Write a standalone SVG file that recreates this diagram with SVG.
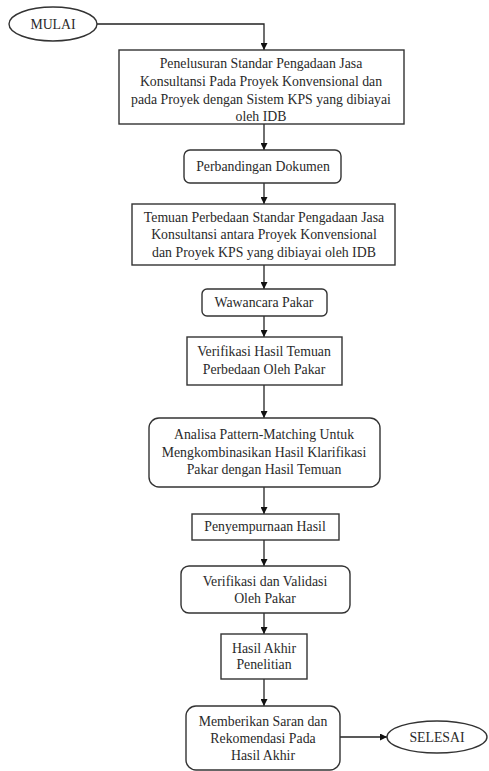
<svg xmlns="http://www.w3.org/2000/svg" width="489" height="771" viewBox="0 0 489 771">
<defs>
<marker id="ah" viewBox="0 0 10 10" refX="10" refY="5" markerWidth="7" markerHeight="7" markerUnits="userSpaceOnUse" orient="auto">
<path d="M0,0 L10,5 L0,10 z" fill="#111"/>
</marker>
<style>
.b{fill:#fff;stroke:#333;stroke-width:1.4}
.t{font-family:'Liberation Serif','DejaVu Serif',serif;font-size:13.8px;fill:#2a2a2a;text-anchor:middle}
.c{fill:none;stroke:#222;stroke-width:1.3;marker-end:url(#ah)}
</style>
</defs>
<rect width="489" height="771" fill="#fff"/>
<g id="connectors">
<path class="c" d="M97,24 H264 V50"/>
<path class="c" d="M264,124 V150"/>
<path class="c" d="M264,183 V204"/>
<path class="c" d="M264,265 V289"/>
<path class="c" d="M264,316 V337"/>
<path class="c" d="M264,385 V418"/>
<path class="c" d="M264,487 V514"/>
<path class="c" d="M264,540 V566"/>
<path class="c" d="M264,613 V634"/>
<path class="c" d="M264,679 V706"/>
<path class="c" d="M340,737 H387"/>
</g>
<g id="mulai">
<ellipse class="b" cx="53" cy="24" rx="44" ry="17"/>
<text class="t" x="53" y="29">MULAI</text>
</g>
<g id="n1">
<rect class="b" x="119" y="50" width="285" height="74"/>
<text class="t" x="261" y="68">Penelusuran Standar Pengadaan Jasa</text>
<text class="t" x="261" y="86">Konsultansi Pada Proyek Konvensional dan</text>
<text class="t" x="261" y="104">pada Proyek dengan Sistem KPS yang dibiayai</text>
<text class="t" x="261" y="121">oleh IDB</text>
</g>
<g id="n2">
<rect class="b" x="184" y="150" width="157" height="33" rx="6"/>
<text class="t" x="263" y="171">Perbandingan Dokumen</text>
</g>
<g id="n3">
<rect class="b" x="132" y="204" width="263" height="61"/>
<text class="t" x="264" y="222">Temuan Perbedaan Standar Pengadaan Jasa</text>
<text class="t" x="264" y="239">Konsultansi antara Proyek Konvensional</text>
<text class="t" x="264" y="257">dan Proyek KPS yang dibiayai oleh IDB</text>
</g>
<g id="n4">
<rect class="b" x="202" y="289" width="125" height="27" rx="5"/>
<text class="t" x="264" y="307">Wawancara Pakar</text>
</g>
<g id="n5">
<rect class="b" x="187" y="337" width="155" height="48"/>
<text class="t" x="264" y="356">Verifikasi Hasil Temuan</text>
<text class="t" x="264" y="374">Perbedaan Oleh Pakar</text>
</g>
<g id="n6">
<rect class="b" x="149" y="418" width="231" height="69" rx="10"/>
<text class="t" x="264" y="439">Analisa Pattern-Matching Untuk</text>
<text class="t" x="264" y="457">Mengkombinasikan Hasil Klarifikasi</text>
<text class="t" x="264" y="474">Pakar dengan Hasil Temuan</text>
</g>
<g id="n7">
<rect class="b" x="192" y="514" width="147" height="26"/>
<text class="t" x="265" y="531">Penyempurnaan Hasil</text>
</g>
<g id="n8">
<rect class="b" x="181" y="566" width="169" height="47" rx="8"/>
<text class="t" x="265" y="586">Verifikasi dan Validasi</text>
<text class="t" x="265" y="603">Oleh Pakar</text>
</g>
<g id="n9">
<rect class="b" x="221" y="634" width="86" height="45"/>
<text class="t" x="264" y="653">Hasil Akhir</text>
<text class="t" x="264" y="669">Penelitian</text>
</g>
<g id="n10">
<rect class="b" x="186" y="706" width="154" height="64" rx="10"/>
<text class="t" x="263" y="726">Memberikan Saran dan</text>
<text class="t" x="263" y="743">Rekomendasi Pada</text>
<text class="t" x="263" y="760">Hasil Akhir</text>
</g>
<g id="selesai">
<ellipse class="b" cx="437" cy="737" rx="50" ry="16"/>
<text class="t" x="437" y="742">SELESAI</text>
</g>
</svg>
